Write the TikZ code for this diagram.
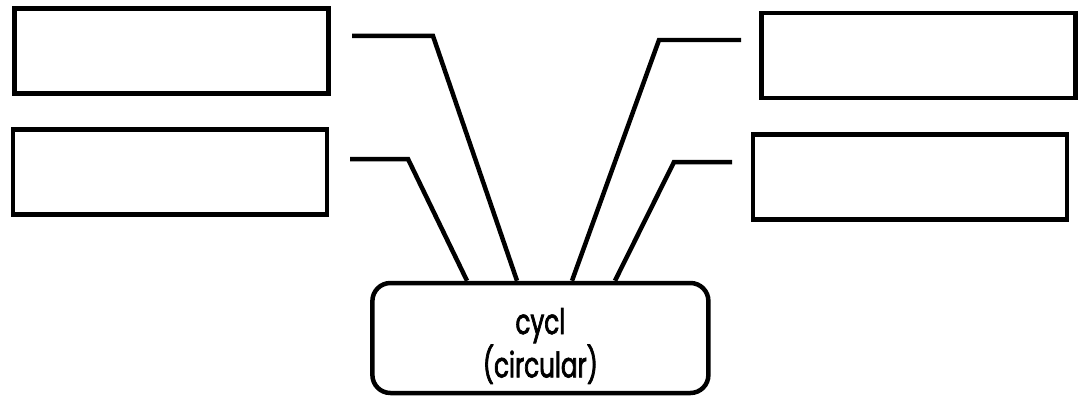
\documentclass[tikz,border=0pt]{standalone}
\usepackage{fontspec}
\setmainfont{Poppins}
\newfontfamily\topicfont[FakeStretch=0.7,FakeBold=2]{Poppins}
\usetikzlibrary{calc}
\tikzset{
    blankbox/.style={draw, line width=3.2pt, inner sep=0pt,
        minimum width=7.85cm, minimum height=2.12cm},
    topicbox/.style={draw, line width=3.2pt, rounded corners=0.45cm,
        minimum width=8.4cm, minimum height=2.75cm},
    topictext/.style={align=center, inner sep=0pt,
        font=\topicfont\fontsize{25}{26}\selectfont},
    linkline/.style={line width=3.2pt, line join=miter}
}

\begin{document}
\begin{tikzpicture}
\useasboundingbox (0,0) rectangle (27.05,9.95);
\node[topicbox] (cycl) at (13.51,1.5) {};
\node[topictext] (cycltext) at ([yshift=-0.2cm]cycl.center) {cycl\\(circular)};
\node[blankbox] (lefttop) at (4.29,8.675) {};
\node[blankbox] (leftbot) at (4.25,5.65) {};
\node[blankbox] (righttop) at (22.96,8.56) {};
\node[blankbox] (rightbot) at (22.75,5.525) {};
% free ends and bends of the links
\coordinate (ltfree) at (8.8,9.05);
\coordinate (ltbend) at (10.825,9.05);
\coordinate (lbfree) at (8.75,5.975);
\coordinate (lbbend) at (10.2,5.975);
\coordinate (rtfree) at (18.525,8.95);
\coordinate (rtbend) at (16.475,8.95);
\coordinate (rbfree) at (18.3,5.9);
\coordinate (rbbend) at (16.85,5.9);
\draw[linkline] (ltfree) -- (ltbend) -- (12.925,0 |- cycl.north);
\draw[linkline] (lbfree) -- (lbbend) -- (11.675,0 |- cycl.north);
\draw[linkline] (rtfree) -- (rtbend) -- (14.3,0 |- cycl.north);
\draw[linkline] (rbfree) -- (rbbend) -- (15.375,0 |- cycl.north);
\end{tikzpicture}
\end{document}
